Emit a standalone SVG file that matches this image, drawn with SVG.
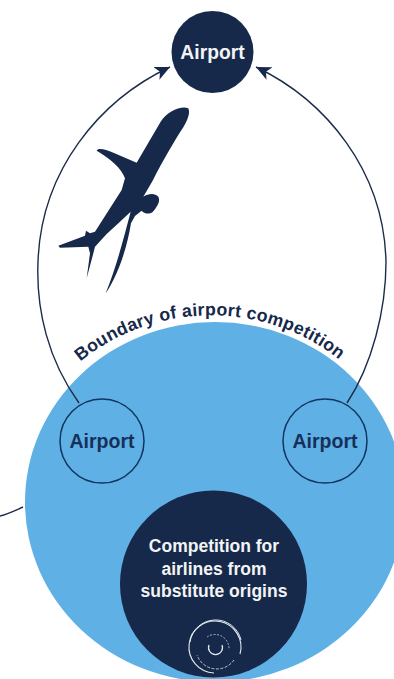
<svg xmlns="http://www.w3.org/2000/svg" width="394" height="679" viewBox="0 0 394 679">
<style>
.t{font-family:"Liberation Sans",Arial,sans-serif;font-weight:700;text-anchor:middle}
.w{fill:#f2f4f6}.d{fill:#16305a}
.c{fill:none;stroke:#1b2c4a;stroke-width:1.4}
.r{fill:none;stroke:#e4e9ee}
</style>
<defs>
<marker id="a" markerUnits="userSpaceOnUse" markerWidth="18" markerHeight="16" refX="15" refY="7" orient="auto"><path d="M0 0L15 7L0 14L4 7Z" fill="#16294a"/></marker>
<path id="b" d="M70 371A196 182 0 0 1 350 369"/>
</defs>
<rect width="394" height="679" fill="#fff"/>
<g id="competition-area"><ellipse cx="215" cy="502" rx="190" ry="180" fill="#5fb0e5"/></g>
<g id="connectors">
<path class="c" marker-end="url(#a)" d="M79 403C48 360 36 310 38 262C41 170 100 100 170 67"/>
<path class="c" marker-end="url(#a)" d="M347 403C372 365 386 310 386 262C384 170 325 100 256 67"/>
<path class="c" d="M0 516C8 514 14 511 23 507"/>
</g>
<g id="airport-top"><circle cx="212.5" cy="52" r="41" fill="#16294a"/><text class="t w" x="212.5" y="59" font-size="19.3">Airport</text></g>
<g id="airport-left"><circle cx="102" cy="441" r="42" fill="none" stroke="#12355f" stroke-width="1.5"/><text class="t d" x="102" y="448" font-size="19.5">Airport</text></g>
<g id="airport-right"><circle cx="325" cy="441" r="42" fill="none" stroke="#12355f" stroke-width="1.5"/><text class="t d" x="325" y="448" font-size="19.5">Airport</text></g>
<g id="substitute-origins">
<circle cx="213.5" cy="584" r="93.5" fill="#16294a"/>
<text class="t w" x="214" y="552" font-size="17.5">Competition for</text>
<text class="t w" x="214" y="575" font-size="17.5">airlines from</text>
<text class="t w" x="214" y="597" font-size="17.5">substitute origins</text>
<path class="r" d="M240 654A26 26 0 1 0 214 673" stroke-width="1.1"/>
<path class="r" d="M190 642A26 26 0 0 1 241 640" stroke-width="1"/>
<path class="r" d="M234 660A21 21 0 0 1 197 655" stroke-width=".8" stroke-dasharray="3 1.5"/>
<path class="r" d="M207 637A14 14 0 0 1 229 649" stroke-width=".7" stroke-dasharray="2 1.5"/>
<path class="r" d="M222 645A7 7 0 1 1 209 645" stroke-width="1.2"/>
</g>
<g id="plane"><path transform="translate(40 90) scale(.3333)" fill="#16294a" d="M445 55C452 72 440 95 430 112C408 145 370 210 338 272L310 320C325 310 345 308 355 320C362 332 352 350 338 366C325 375 312 370 305 362L285 378L273 400C262 470 235 555 197 610C230 530 255 430 272 365L240 395L200 432L165 470L160 490L140 565L150 490L145 470L60 473L55 467L135 437L138 422L150 430L165 425L245 300L255 265C245 235 210 205 170 182C172 172 200 178 215 186L290 218L362 95C380 65 425 45 445 55Z"/></g>
<g id="boundary-label"><text class="t" font-size="17.7" fill="#16294a" letter-spacing=".3"><textPath href="#b" startOffset="50%">Boundary of airport competition</textPath></text></g>
</svg>
